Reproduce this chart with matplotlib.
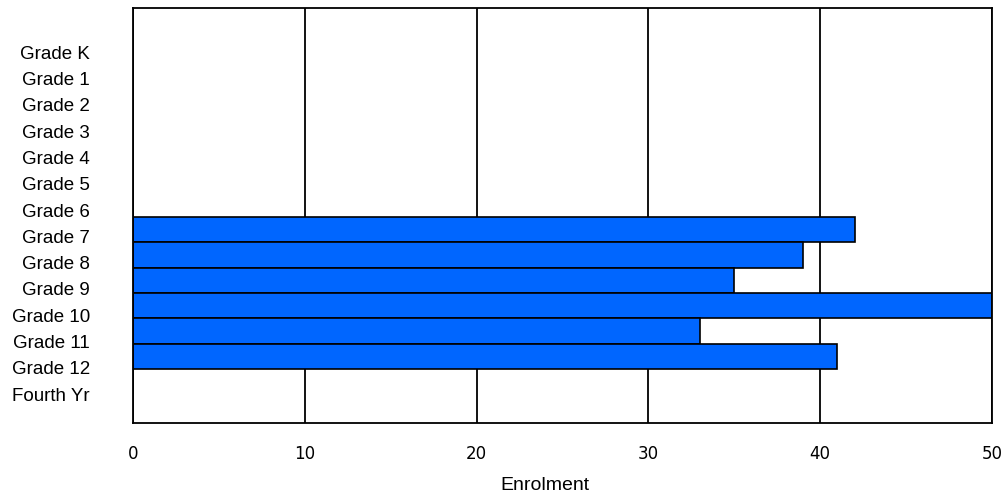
import numpy as np
import matplotlib.pyplot as plt

# categories and enrolment counts
grades = ['Grade K', 'Grade 1', 'Grade 2', 'Grade 3', 'Grade 4', 'Grade 5',
          'Grade 6', 'Grade 7', 'Grade 8', 'Grade 9', 'Grade 10', 'Grade 11',
          'Grade 12', 'Fourth Yr']
enrolment = [0, 0, 0, 0, 0, 0, 0, 42, 39, 35, 50, 33, 41, 0]
x_ticks = [0, 10, 20, 30, 40, 50]

fig = plt.figure(figsize=(10.07, 4.93), dpi=100)
ax = fig.add_axes([133 / 1007, 1 - 423 / 493, (992 - 133) / 1007, (423 - 8) / 493])

y = np.arange(len(grades))
ax.barh(y, enrolment, height=1.0, color='#0066ff', edgecolor='black', linewidth=1.2, zorder=2)

ax.set_xlim(0, 50)
ax.set_ylim(len(grades) - 1 + 1.63, -1.75)
ax.set_xticks(x_ticks)
ax.set_xticklabels([str(t) for t in x_ticks], family='DejaVu Sans', fontsize=12)

# labels in the original sit on a slightly wider spacing than the bars
label_pos = np.linspace(0, len(grades) - 1 + 0.49, len(grades))
ax.set_yticks(label_pos)
ax.set_yticklabels(grades, family='Liberation Sans', fontsize=13.5)
ax.tick_params(axis='both', length=0)
ax.tick_params(axis='y', pad=31)
ax.tick_params(axis='x', pad=16)

ax.grid(axis='x', color='black', linewidth=1.3)
ax.set_axisbelow(True)
for s in ax.spines.values():
    s.set_linewidth(1.3)

ax.set_xlabel('Enrolment', family='Liberation Sans', fontsize=14)
ax.xaxis.set_label_coords(0.48, -0.13)

fig.savefig('out.png', dpi=100)
